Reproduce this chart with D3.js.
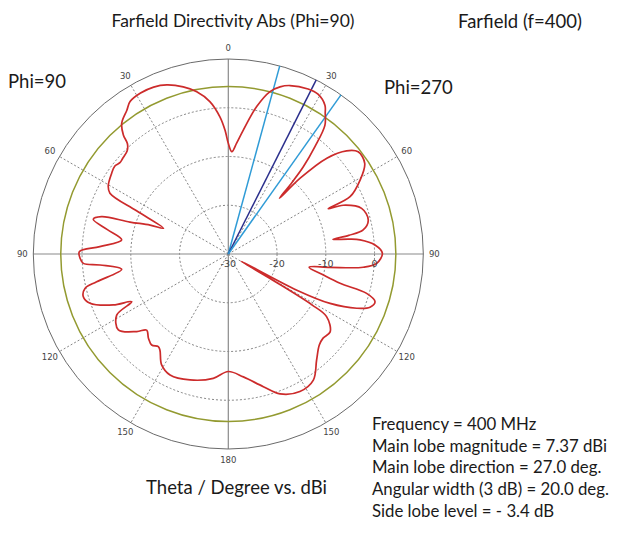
<!DOCTYPE html>
<html>
<head>
<meta charset="utf-8">
<script src="https://cdn.jsdelivr.net/npm/d3@7"></script>
<style>
  body { margin: 0; background: #fff; }
  svg { display: block; }
</style>
</head>
<body>
<svg id="chart" width="632" height="534"></svg>
<script>
// Theta (deg, clockwise from top) and directivity (dBi)
const thetaDeg = [
  0, 2, 4.3, 6.9, 10.9, 14.4, 17.2, 20.1, 25.8, 29.3, 33, 34.5, 36.9, 38.9, 40.7, 41.8, 42.6, 43.5,
  45.8, 48.9, 51.8, 56.4, 60.7, 64.8, 65.6, 67, 71.1, 76.3, 79.9, 81.2, 82, 83, 83.9, 86.5, 89.7,
  93.6, 95.6, 97.5, 99.3, 102.5, 104.7, 105.9, 108, 110.6, 112.9, 115.9, 117.8, 119.5, 120.5, 121.3,
  122.5, 127.4, 131.6, 135, 140.2, 146, 152.5, 159.7, 165.2, 173, 180,
  186.9, 196.9, 205.7, 211, 215.4, 217.1, 220.1, 223.5, 227, 229.7, 235.4, 241.3, 243.7, 246.1,
  250.4, 253.6, 256.5, 258.1, 261.8, 265.1, 266.3, 268.3, 270.9, 273.3, 277.5, 281.4, 284.4, 286.4,
  288, 290.3, 291.6, 295.2, 297.2, 299.5, 304.7, 307.8, 310.1, 312.2, 315.6, 317.6, 318.6, 320.8,
  324.8, 327.2, 331.4, 335.9, 340, 344.9, 349, 353.1, 356.5, 358.5
];
const directivity = [
  -7.3, -9.0, -7.2, -4.4, 0.8, 4.4, 5.9, 6.8, 7.6, 7.6, 6.4, 5.1, 3.0, -1.7, -6.4, -11, -14.5, -8.5,
  -1.8, 2.2, 3.9, 3.6, 1.0, -2.4, -7.5, -4.4, -1.1, -0.45, -1.9, -5, -8.3, -5, -2.8, 0.15, 1.6,
  0.5, -2.2, -9, -13.2, -10, -6.3, -0.5, 1.65, 1.05, -1.4, -6.8, -14.1, -27, -19, -10,
  -6.1, -3.7, -4.0, -3.6, -1.7, 1.2, 1.8, 0.6, -1.85, -4.6, -5.9,
  -4.3, -3.0, -2.45, -3.45, -5.8, -6.2, -5.6, -6.2, -7.1, -5.4, -2.6, -3.9, -7.9, -4.2,
  0.1, 1.0, 0.23, -2.4, -7.9, -3.6, -0.2, 0.4, 0.56, -3.6, -7.95, -4.7, -1.4, -2.9,
  -8.8, -12.9, -15.7, -9.2, -2.7, -1.7, -0.9, -0.56, -0.93, -0.77, -0.36, 0.7, 2.55, 4.6,
  6.1, 7.2, 7.6, 7.5, 6.9, 5.5, 3.9, 1.5, -1.8, -4.6
];

const dbTicks = [-30, -20, -10, 0];
const angleTicks = [0, 30, 60, 90, 120, 150, 180, 210, 240, 270, 300, 330];
const mainLobeMag = 7.37;
const beamLines = [
  { angle: 15.3, color: "#2f9bd6" },
  { angle: 26.8, color: "#2b2f8c" },
  { angle: 35.3, color: "#2f9bd6" }
];
const infoLines = [
  "Frequency = 400 MHz",
  "Main lobe magnitude = 7.37 dBi",
  "Main lobe direction = 27.0 deg.",
  "Angular width (3 dB) = 20.0 deg.",
  "Side lobe level = - 3.4 dB"
];

const svg = d3.select("#chart");
const cx = 228.3, cy = 254, R = 195;
const rad = d => d * Math.PI / 180;
const r = d3.scaleLinear().domain([-30, 10]).range([0, R]);

svg.append("rect").attr("width", 632).attr("height", 534).attr("fill", "#fff");

const g = svg.append("g").attr("transform", `translate(${cx},${cy})`);

// dotted rings
g.selectAll(".ring")
  .data(dbTicks.filter(d => d > -30))
  .enter().append("circle")
  .attr("r", d => r(d))
  .attr("fill", "none")
  .attr("stroke", "#666")
  .attr("stroke-width", 0.8)
  .attr("stroke-dasharray", "2,2");

// spokes
g.selectAll(".spoke")
  .data(angleTicks.filter(a => a % 90 !== 0))
  .enter().append("line")
  .attr("x1", 0).attr("y1", 0)
  .attr("x2", a => R * Math.sin(rad(a)))
  .attr("y2", a => -R * Math.cos(rad(a)))
  .attr("stroke", "#666")
  .attr("stroke-width", 0.8)
  .attr("stroke-dasharray", "2,2");

// main axes
g.append("line").attr("x1", -R).attr("x2", R).attr("y1", 0).attr("y2", 0)
  .attr("stroke", "#8a8a8a").attr("stroke-width", 1.2);
g.append("line").attr("x1", 0).attr("x2", 0).attr("y1", -R).attr("y2", R)
  .attr("stroke", "#8a8a8a").attr("stroke-width", 1.2);

// outer circle
g.append("circle").attr("r", R).attr("fill", "none")
  .attr("stroke", "#6a6a6a").attr("stroke-width", 1);

// -3 dB circle
g.append("circle").attr("r", r(mainLobeMag - 3)).attr("fill", "none")
  .attr("stroke", "#939a30").attr("stroke-width", 1.5);

// beam lines
g.selectAll(".beam")
  .data(beamLines)
  .enter().append("line")
  .attr("x1", 0).attr("y1", 0)
  .attr("x2", d => R * Math.sin(rad(d.angle)))
  .attr("y2", d => -R * Math.cos(rad(d.angle)))
  .attr("stroke", d => d.color)
  .attr("stroke-width", 1.5);

// pattern
const pts = thetaDeg.map((t, i) => [rad(t), r(directivity[i])]);
const line = d3.lineRadial().curve(d3.curveCatmullRomClosed.alpha(0.5));
g.append("path")
  .attr("d", line(pts))
  .attr("fill", "none")
  .attr("stroke", "#cc2b2b")
  .attr("stroke-width", 1.7);

// angle labels
g.selectAll(".alabel")
  .data(angleTicks)
  .enter().append("text")
  .attr("x", a => 206 * Math.sin(rad(a)))
  .attr("y", a => -206 * Math.cos(rad(a)))
  .attr("dy", "0.35em")
  .attr("text-anchor", "middle")
  .attr("font-family", "DejaVu Sans, sans-serif")
  .attr("font-size", "8.5px")
  .attr("fill", "#444")
  .text(a => a <= 180 ? a : 360 - a);

// dB labels
g.selectAll(".dblabel")
  .data(dbTicks)
  .enter().append("text")
  .attr("x", d => r(d))
  .attr("y", 13)
  .attr("text-anchor", "middle")
  .attr("font-family", "DejaVu Sans, sans-serif")
  .attr("font-size", "9.5px")
  .attr("fill", "#444")
  .text(d => d);

// titles
const font = "Lato, 'Open Sans', sans-serif";
svg.append("text").attr("x", 233).attr("y", 27).attr("text-anchor", "middle")
  .attr("font-family", font).attr("font-size", "17.5px").attr("fill", "#1a1a1a")
  .text("Farfield Directivity Abs (Phi=90)");
svg.append("text").attr("x", 458).attr("y", 28)
  .attr("font-family", font).attr("font-size", "18.5px").attr("fill", "#1a1a1a")
  .text("Farfield (f=400)");
svg.append("text").attr("x", 8).attr("y", 88)
  .attr("font-family", font).attr("font-size", "18.5px").attr("fill", "#1a1a1a")
  .text("Phi=90");
svg.append("text").attr("x", 384).attr("y", 94)
  .attr("font-family", font).attr("font-size", "18.5px").attr("fill", "#1a1a1a")
  .text("Phi=270");
svg.append("text").attr("x", 236.5).attr("y", 494).attr("text-anchor", "middle")
  .attr("font-family", font).attr("font-size", "18.5px").attr("fill", "#1a1a1a")
  .text("Theta / Degree vs. dBi");

svg.selectAll(".info")
  .data(infoLines)
  .enter().append("text")
  .attr("x", 372)
  .attr("y", (d, i) => 430 + i * 21.7)
  .attr("font-family", font)
  .attr("font-size", "16.8px")
  .attr("fill", "#1a1a1a")
  .text(d => d);
</script>
</body>
</html>
